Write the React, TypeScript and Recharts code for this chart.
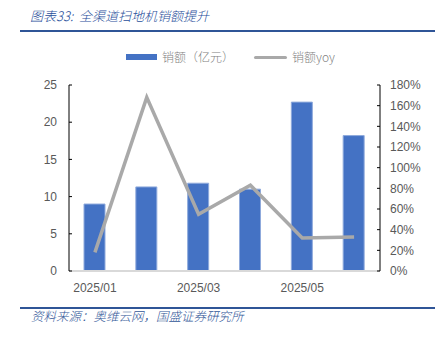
import React from 'react';
import { ComposedChart, Bar, Line, XAxis, YAxis, ReferenceLine } from 'recharts';

const months = ['2025/01', '2025/02', '2025/03', '2025/04', '2025/05', '2025/06'];
const sales = [9.0, 11.3, 11.8, 11.0, 22.7, 18.2];
const yoy = [0.18, 1.68, 0.55, 0.83, 0.32, 0.33];
const leftTicks = [0, 5, 10, 15, 20, 25];
const rightTicks = [0, 0.2, 0.4, 0.6, 0.8, 1.0, 1.2, 1.4, 1.6, 1.8];

const data = months.map((m, i) => ({ month: m, sales: sales[i], yoy: yoy[i] }));

const CJK = '"Noto Sans CJK SC", "Noto Sans", sans-serif';
const NUM = '"Liberation Sans", Arial, sans-serif';
const BLUE = '#4472C4';
const GRAY = '#A9A9A9';
const TEXT = '#595959';
const DARK = '#1F4E9A';

export default function App() {
  return (
    <div style={{ position: 'absolute', left: 0, top: 0, width: 445, height: 339, background: '#fff' }}>
      <div style={{ position: 'absolute', left: 30, top: 6, fontFamily: CJK, fontStyle: 'italic', fontWeight: 300, fontSize: 13, color: DARK, whiteSpace: 'nowrap', lineHeight: '20px' }}>
        图表33:&nbsp;&nbsp;全渠道扫地机销额提升
      </div>
      <div style={{ position: 'absolute', left: 20, top: 30, width: 415, height: 2, background: '#2F5597' }} />
      <div style={{ position: 'absolute', left: 126, top: 54, width: 31, height: 6, background: BLUE }} />
      <div style={{ position: 'absolute', left: 162, top: 47, fontFamily: CJK, fontWeight: 300, fontSize: 12, color: '#7F7F7F', lineHeight: '20px', whiteSpace: 'nowrap' }}>销额（亿元）</div>
      <div style={{ position: 'absolute', left: 254, top: 55.5, width: 33, height: 3, background: GRAY, borderRadius: 1.5 }} />
      <div style={{ position: 'absolute', left: 292, top: 47, fontFamily: CJK, fontWeight: 300, fontSize: 12, color: '#7F7F7F', lineHeight: '20px', whiteSpace: 'nowrap' }}>销额yoy</div>
      <div style={{ position: 'absolute', left: 0, top: 0 }}>
        <ComposedChart width={445} height={339} data={data} margin={{ top: 85, right: 0, bottom: 38, left: 0 }} barCategoryGap="30%">
          <XAxis
            dataKey="month"
            interval={1}
            axisLine={false}
            tickLine={false}
            tick={{ fill: TEXT, fontSize: 12, fontFamily: NUM }}
            tickMargin={6}
            height={30}
          />
          <YAxis
            yAxisId="left"
            orientation="left"
            domain={[0, 25]}
            ticks={leftTicks}
            width={69}
            axisLine={{ stroke: '#000', strokeWidth: 1 }}
            tickLine={{ stroke: '#000' }}
            tickSize={-3}
            tickMargin={15}
            tick={{ fill: TEXT, fontSize: 12, fontFamily: NUM }}
          />
          <YAxis
            yAxisId="right"
            orientation="right"
            domain={[0, 1.8]}
            ticks={rightTicks}
            width={65}
            axisLine={{ stroke: '#000', strokeWidth: 1 }}
            tickLine={{ stroke: '#000' }}
            tickSize={-3}
            tickMargin={13}
            tickFormatter={(v: number) => `${Math.round(v * 100)}%`}
            tick={{ fill: TEXT, fontSize: 12, fontFamily: NUM }}
          />
          <Bar yAxisId="left" dataKey="sales" fill={BLUE} stroke="#8FAADC" strokeWidth={1} barSize={21} isAnimationActive={false} />
          <ReferenceLine yAxisId="left" y={0} stroke="#D9D9D9" strokeWidth={2} />
          <Line yAxisId="right" dataKey="yoy" type="linear" stroke={GRAY} strokeWidth={3.5} dot={false} activeDot={false} isAnimationActive={false} />
        </ComposedChart>
      </div>
      <div style={{ position: 'absolute', left: 20, top: 307, width: 415, height: 2, background: '#2F5597' }} />
      <div style={{ position: 'absolute', left: 31, top: 306, fontFamily: CJK, fontStyle: 'italic', fontWeight: 300, fontSize: 12.5, color: '#2F5597', lineHeight: '20px', whiteSpace: 'nowrap' }}>
        资料来源：奥维云网，国盛证券研究所
      </div>
    </div>
  );
}
